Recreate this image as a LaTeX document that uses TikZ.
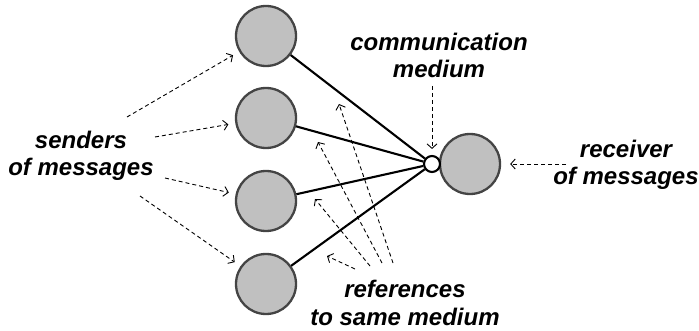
\documentclass[tikz,border=0pt]{standalone}
\usepackage{fontspec}
\setmainfont{Liberation Sans}
\usetikzlibrary{arrows.meta}
\definecolor{stationfill}{HTML}{C0C0C0}
\definecolor{stationedge}{HTML}{444444}
\tikzset{
  station/.style={circle, draw=stationedge, fill=stationfill, line width=2.3pt,
    minimum size=60pt, inner sep=0pt},
  channel/.style={circle, draw=black, fill=white, line width=2.1pt,
    minimum size=16pt, inner sep=0pt},
  link/.style={line width=2.1pt, draw=black},
  pointer/.style={line width=0.9pt, dash pattern=on 4pt off 3pt,
    -{Straight Barb[length=4.5pt,width=10pt,line width=0.9pt]}},
  caption/.style={align=center, inner sep=0pt,
    font=\fontsize{24}{27.5}\selectfont\bfseries\itshape}
}
\begin{document}
\begin{tikzpicture}[x=1pt,y=-1pt]
\useasboundingbox (0,0) rectangle (699,331);

% senders, medium and receiver
\node[station] (s1) at (266,36) {};
\node[station] (s2) at (266,118) {};
\node[station] (s3) at (266,201) {};
\node[station] (s4) at (266,284) {};
\node[station] (rcv) at (470,164) {};
\node[channel] (med) at (432,164) {};

\foreach \s in {s1,s2,s3,s4}
  \draw[link] (\s) -- (med);

% captions
\node[caption, anchor=base] (senders) at (81,176) {senders\\of messages};
\node[caption, anchor=base] (comm) at (439,78) {communication\\medium};
\node[caption, anchor=base] (receiver) at (626,185) {receiver\\of messages};
\node[caption, anchor=base] (refs) at (405,325) {references\\to same medium};

% free ends of the pointers
\coordinate (p1) at (127,117);
\coordinate (p2) at (155,137);
\coordinate (p3) at (165,178);
\coordinate (p4) at (140,196);
\coordinate (pc) at (432,86);
\coordinate (pr) at (566,164);
\coordinate (ra) at (393,263);
\coordinate (rb) at (382,263);
\coordinate (rc) at (370,266);
\coordinate (rd) at (355,269);
\coordinate (ta) at (339,104);
\coordinate (tb) at (318,142);
\coordinate (tc) at (315,199);
\coordinate (td) at (327,256);

% pointers to senders
\draw[pointer, shorten >=7pt] (p1) -- (s1);
\draw[pointer, shorten >=7pt] (p2) -- (s2);
\draw[pointer, shorten >=7pt] (p3) -- (s3);
\draw[pointer, shorten >=7pt] (p4) -- (s4);

% pointers to medium and receiver
\draw[pointer, shorten >=6pt] (pc) -- (med);
\draw[pointer, shorten >=9pt] (pr) -- (rcv);

% references to the same medium
\draw[pointer] (ra) -- (ta);
\draw[pointer] (rb) -- (tb);
\draw[pointer] (rc) -- (tc);
\draw[pointer] (rd) -- (td);
\end{tikzpicture}
\end{document}
